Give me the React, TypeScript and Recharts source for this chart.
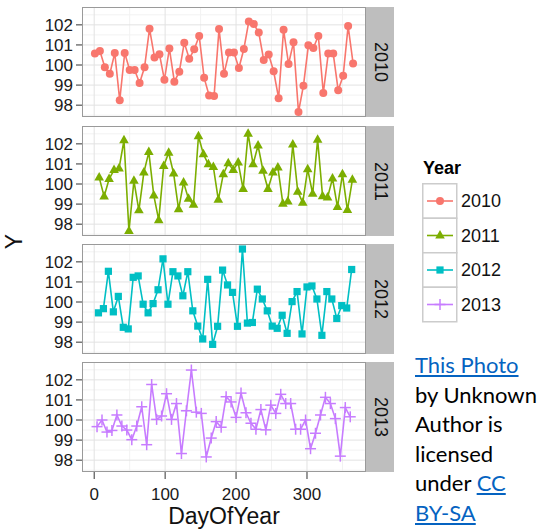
import React from 'react'
import { LineChart, Line, XAxis, YAxis, CartesianGrid } from 'recharts'

// weekly sampling days (Fridays) per year
const days2010 = [1, 8, 15, 22, 29, 36, 43, 50, 57, 64, 71, 78, 85, 92, 99, 106, 113, 120, 127, 134, 141, 148, 155, 162, 169, 176, 183, 190, 197, 204, 211, 218, 225, 232, 239, 246, 253, 260, 267, 274, 281, 288, 295, 302, 309, 316, 323, 330, 337, 344, 351, 358, 365]
const days2011 = [7, 14, 21, 28, 35, 42, 49, 56, 63, 70, 77, 84, 91, 98, 105, 112, 119, 126, 133, 140, 147, 154, 161, 168, 175, 182, 189, 196, 203, 210, 217, 224, 231, 238, 245, 252, 259, 266, 273, 280, 287, 294, 301, 308, 315, 322, 329, 336, 343, 350, 357, 364]
const days2012 = [6, 13, 20, 27, 34, 41, 48, 55, 62, 69, 76, 83, 90, 97, 104, 111, 118, 125, 132, 139, 146, 153, 160, 167, 174, 181, 188, 195, 202, 209, 216, 223, 230, 237, 244, 251, 258, 265, 272, 279, 286, 293, 300, 307, 314, 321, 328, 335, 342, 349, 356, 363]
const days2013 = [4, 11, 18, 25, 32, 39, 46, 53, 60, 67, 74, 81, 88, 95, 102, 109, 116, 123, 130, 137, 144, 151, 158, 165, 172, 179, 186, 193, 200, 207, 214, 221, 228, 235, 242, 249, 256, 263, 270, 277, 284, 291, 298, 305, 312, 319, 326, 333, 340, 347, 354, 361]

const y2010 = [100.57, 100.7, 99.89, 99.56, 100.6, 98.24, 100.6, 99.75, 99.75, 99.1, 99.89, 101.81, 100.38, 100.54, 99.26, 100.82, 99.17, 99.67, 101.11, 100.31, 100.78, 101.45, 99.36, 98.48, 98.45, 101.8, 99.56, 100.62, 100.62, 99.85, 100.8, 102.17, 102.04, 101.62, 100.25, 100.52, 99.69, 98.35, 101.76, 100.05, 101.13, 97.66, 98.97, 100.98, 100.85, 101.45, 98.61, 100.57, 100.57, 98.74, 99.46, 101.94, 100.08]
const y2011 = [100.33, 99.38, 100.25, 100.7, 100.77, 102.18, 97.66, 100.16, 98.69, 100.57, 101.59, 99.43, 98.2, 100.9, 101.56, 100.52, 98.74, 100.08, 99.26, 98.97, 102.38, 101.48, 100.98, 100.85, 99.21, 100.49, 101.03, 100.7, 101.07, 99.75, 102.51, 100.98, 101.92, 100.66, 99.75, 100.57, 100.82, 99.02, 99.13, 101.97, 99.62, 99.07, 100.74, 99.51, 102.21, 99.39, 99.33, 100.28, 98.85, 100.49, 98.7, 100.21]
const y2012 = [99.46, 99.67, 101.53, 99.51, 100.28, 98.74, 98.66, 101.23, 101.3, 99.89, 99.46, 99.92, 100.61, 102.15, 99.89, 101.51, 101.3, 100.31, 101.51, 99.56, 98.8, 98.16, 101.13, 97.89, 98.79, 101.59, 100.85, 100.48, 98.79, 102.64, 98.95, 98.98, 100.64, 100.15, 99.56, 98.8, 98.69, 99.34, 98.44, 100.02, 100.52, 98.41, 100.75, 100.8, 100.15, 98.34, 100.52, 100.15, 99.18, 99.82, 99.7, 101.62]
const y2013 = [99.67, 100.0, 99.4, 99.48, 100.25, 99.7, 99.5, 99.02, 99.7, 100.66, 98.77, 101.77, 100.03, 100.2, 101.31, 100.03, 100.82, 98.33, 100.46, 102.49, 100.39, 100.33, 98.16, 99.1, 99.92, 99.64, 101.16, 100.9, 100.13, 101.34, 100.36, 99.84, 99.54, 100.52, 99.51, 100.74, 100.33, 101.28, 100.82, 100.82, 99.54, 99.54, 100.0, 98.57, 99.34, 100.25, 101.13, 100.82, 100.07, 98.2, 100.62, 100.16]

const years = ['2010', '2011', '2012', '2013']
const colors = ['#F8766D', '#7CAE00', '#00BFC4', '#C77CFF']
const xTicks = [0, 100, 200, 300]
const xMinor = [50, 150, 250, 350]
const yTicks = [98, 99, 100, 101, 102]
const yMinor = [97.5, 98.5, 99.5, 100.5, 101.5, 102.5]

const series = [
  days2010.map((d, i) => ({ day: d, y: y2010[i] })),
  days2011.map((d, i) => ({ day: d, y: y2011[i] })),
  days2012.map((d, i) => ({ day: d, y: y2012[i] })),
  days2013.map((d, i) => ({ day: d, y: y2013[i] })),
]

const panelTops = [7, 126, 244, 362]
const PANEL_H = 110
const PLOT_L = 82
const PLOT_R = 366
const FONT = 'Arial, "Liberation Sans", sans-serif'

function Marker({ kind, x, y, color }: { kind: number; x: number; y: number; color: string }) {
  if (kind === 0) return <circle cx={x} cy={y} r={4} fill={color} />
  if (kind === 1)
    return <polygon points={`${x},${y - 5.5} ${x - 4.8},${y + 3} ${x + 4.8},${y + 3}`} fill={color} />
  if (kind === 2) return <rect x={x - 3.6} y={y - 3.6} width={7.2} height={7.2} fill={color} />
  return (
    <g stroke={color} strokeWidth={1.5}>
      <line x1={x - 5.5} y1={y} x2={x + 5.5} y2={y} />
      <line x1={x} y1={y - 5.5} x2={x} y2={y + 5.5} />
    </g>
  )
}

function Panel({ idx }: { idx: number }) {
  const last = idx === 3
  const color = colors[idx]
  const dot = (p: any) => (
    <g key={`dot-${idx}-${p.index}`}>
      <Marker kind={idx} x={p.cx} y={p.cy} color={color} />
    </g>
  )
  const top = panelTops[idx]
  return (
    <>
      <div style={{ position: 'absolute', left: 0, top: top - 6 }}>
        <LineChart
          width={PLOT_R}
          height={PANEL_H + 12 + (last ? 34 : 0)}
          data={series[idx]}
          margin={{ top: 6, right: 0, bottom: last ? 0 : 6, left: 0 }}
        >
          <CartesianGrid stroke="#f2f2f2" verticalValues={xMinor} horizontalValues={yMinor} />
          <CartesianGrid stroke="#e2e2e2" verticalValues={xTicks} horizontalValues={yTicks} />
          <XAxis
            type="number"
            dataKey="day"
            domain={[-17.2, 383.2]}
            ticks={xTicks}
            interval={0}
            hide={!last}
            height={40}
            axisLine={false}
            tickSize={7}
            tickMargin={9}
            tickLine={{ stroke: '#333' }}
            tick={{ fontSize: 17, fill: '#1a1a1a', fontFamily: FONT }}
          />
          <YAxis
            type="number"
            domain={[97.41, 102.89]}
            ticks={yTicks}
            interval={0}
            width={PLOT_L}
            axisLine={false}
            tickSize={6}
            tickMargin={3}
            tickLine={{ stroke: '#333' }}
            tick={{ fontSize: 17, fill: '#1a1a1a', fontFamily: FONT }}
          />
          <Line
            type="linear"
            dataKey="y"
            stroke={color}
            strokeWidth={1.6}
            dot={dot}
            activeDot={false}
            isAnimationActive={false}
          />
        </LineChart>
      </div>
      <div
        style={{
          position: 'absolute',
          left: PLOT_L,
          top,
          width: PLOT_R - PLOT_L,
          height: PANEL_H,
          border: '1px solid #9a9a9a',
          boxSizing: 'border-box',
          pointerEvents: 'none',
        }}
      />
      <div
        style={{
          position: 'absolute',
          left: PLOT_R,
          top,
          width: 28,
          height: PANEL_H,
          background: '#bebebe',
          display: 'flex',
          alignItems: 'center',
          justifyContent: 'center',
        }}
      >
        <span style={{ writingMode: 'vertical-rl', fontSize: 18, fontFamily: FONT, color: '#111' }}>
          {years[idx]}
        </span>
      </div>
    </>
  )
}

function LegendBox() {
  const rowH = 34.5
  return (
    <div style={{ position: 'absolute', left: 422, top: 158 }}>
      <div style={{ fontFamily: FONT, fontWeight: 'bold', fontSize: 18, color: '#000', marginLeft: 1 }}>Year</div>
      <svg width={120} height={142} style={{ position: 'absolute', left: 0, top: 25 }}>
        {years.map((yr, i) => (
          <g key={yr}>
            <rect x={0.75} y={0.75 + i * rowH} width={34} height={rowH} fill="#fff" stroke="#cccccc" strokeWidth={1.5} />
            <line x1={5} x2={31} y1={i * rowH + rowH / 2 + 0.75} y2={i * rowH + rowH / 2 + 0.75} stroke={colors[i]} strokeWidth={1.6} />
            <Marker kind={i} x={18} y={i * rowH + rowH / 2 + 0.75} color={colors[i]} />
            <text x={39} y={i * rowH + rowH / 2 + 7} fontSize={18} fontFamily={FONT} fill="#111">
              {yr}
            </text>
          </g>
        ))}
      </svg>
    </div>
  )
}

const linkStyle: React.CSSProperties = { color: '#0563C1', textDecoration: 'underline' }

export default function App() {
  return (
    <div style={{ position: 'absolute', left: 0, top: 0, width: 541, height: 531, background: '#fff', overflow: 'hidden' }}>
      {years.map((_, i) => (
        <Panel key={i} idx={i} />
      ))}
      <div
        style={{
          position: 'absolute',
          left: 2,
          top: 228,
          fontFamily: FONT,
          fontSize: 23,
          color: '#111',
          transform: 'rotate(-90deg)',
          transformOrigin: 'center',
          width: 24,
          textAlign: 'center',
        }}
      >
        Y
      </div>
      <div
        style={{
          position: 'absolute',
          left: 124,
          width: 200,
          top: 503,
          textAlign: 'center',
          fontFamily: FONT,
          fontSize: 23,
          color: '#111',
        }}
      >
        DayOfYear
      </div>
      <LegendBox />
      <div
        style={{
          position: 'absolute',
          left: 415,
          top: 350,
          fontFamily: 'Lato, "Open Sans", sans-serif',
          fontSize: 22,
          lineHeight: '29.5px',
          color: '#000',
          whiteSpace: 'nowrap',
        }}
      >
        <div>
          <span style={linkStyle}>This Photo</span>
        </div>
        <div>by Unknown</div>
        <div>Author is</div>
        <div>licensed</div>
        <div>
          under <span style={linkStyle}>CC</span>
        </div>
        <div>
          <span style={linkStyle}>BY-SA</span>
        </div>
      </div>
    </div>
  )
}
